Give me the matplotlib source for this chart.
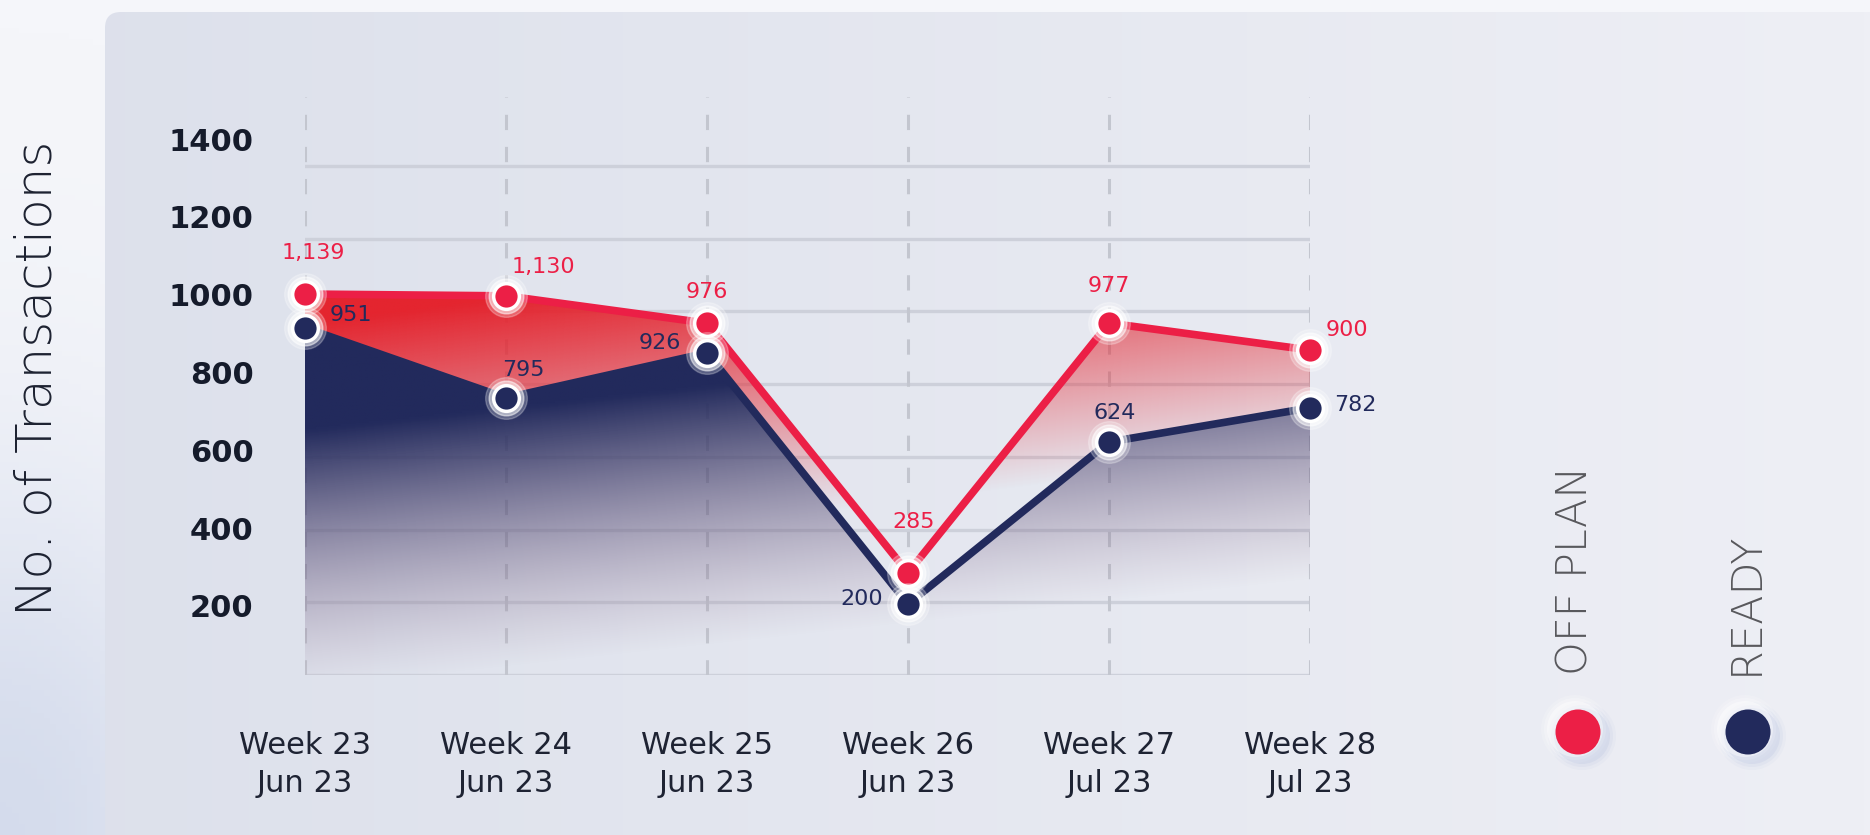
import numpy as np
from matplotlib import pyplot as plt
from matplotlib.patches import FancyBboxPatch, Polygon, Circle
from matplotlib.colors import to_rgb

weeks = ["Week 23", "Week 24", "Week 25", "Week 26", "Week 27", "Week 28"]
months = ["Jun 23", "Jun 23", "Jun 23", "Jun 23", "Jul 23", "Jul 23"]
# heights of the points read against the gridlines (one line per 200)
off_plan = [1048, 1043, 968, 281, 968, 894]
ready = [955, 762, 886, 195, 641, 735]
# numbers printed beside the points
off_plan_labels = ["1,139", "1,130", "976", "285", "977", "900"]
ready_labels = ["951", "795", "926", "200", "624", "782"]
y_tick_values = [200, 400, 600, 800, 1000, 1200, 1400]
series_names = ["OFF PLAN", "READY"]

RED = "#ec1f46"
NAVY = "#222a5c"
W, H = 1870, 835

plt.rcParams['font.family'] = ['DejaVu Sans']


def gradient_fill(ax, x, top, bottom, alpha_fn, rgb_fn, zorder):
    x = np.asarray(x, float)
    verts = np.column_stack([np.concatenate([x, x[::-1]]),
                             np.concatenate([top, bottom[::-1]])])
    poly = Polygon(verts, closed=True, fc="none", ec="none")
    ax.add_patch(poly)
    X, Y = np.meshgrid(np.linspace(0, 5, 400), np.linspace(0, 1590, 400))
    a = alpha_fn(X, Y)
    img = np.zeros(X.shape + (4,))
    img[..., :3] = rgb_fn(a)
    img[..., 3] = a
    im = ax.imshow(img, extent=[0, 5, 0, 1590], origin="lower", aspect="auto",
                   zorder=zorder, interpolation="bilinear")
    im.set_clip_path(poly)


fig = plt.figure(figsize=(W / 100, H / 100), dpi=100)
fig.patch.set_facecolor("#f5f6fa")

# background layer, pixel units (y down)
bg = fig.add_axes([0, 0, 1, 1], zorder=-1)
gx, gy = np.meshgrid(np.linspace(0, W, 300), np.linspace(0, H, 150))
blob = np.exp(-((gx / 240) ** 2 + ((gy - H) / 360) ** 2))
outer = np.zeros(gx.shape + (4,))
outer[..., :3] = to_rgb("#bfcae3")
outer[..., 3] = 0.6 * blob
bg.imshow(outer, extent=[0, W, H, 0], aspect="auto", zorder=0)

panel = FancyBboxPatch((105, 12), 2000, 1000, boxstyle="round,pad=0,rounding_size=16",
                       fc="none", ec="none")
bg.add_patch(panel)
t = (gx / W)[..., None]
c1 = np.array(to_rgb("#dce0eb"))
c2 = np.array(to_rgb("#eeeff5"))
pimg = np.ones(gx.shape + (4,))
pimg[..., :3] = (1 - t) * c1 + t * c2
pim = bg.imshow(pimg, extent=[0, W, H, 0], aspect="auto", zorder=1)
pim.set_clip_path(panel)
bg.set_xlim(0, W)
bg.set_ylim(H, 0)
bg.axis("off")

bg.text(38, 378, "No. of Transactions", rotation=90, ha="center", va="center",
        fontsize=36, color="#1d2231", fontweight="light", zorder=3)

# legend
legend_x = [1578, 1748]
for lx, name, col in zip(legend_x, series_names, [RED, NAVY]):
    for r, al in [(34, 0.08), (31, 0.12), (28, 0.2)]:
        bg.add_patch(Circle((lx + 4, 736), r, fc="#aebbdc", ec="none", alpha=al, zorder=2))
        bg.add_patch(Circle((lx - 3, 729), r, fc="white", ec="none", alpha=al * 2, zorder=2))
    bg.add_patch(Circle((lx, 732), 22.5, fc=col, ec="none", zorder=3))
    bg.text(lx - 3, 675, name, rotation=90, ha="center", va="bottom", fontsize=31,
            color="#58585c", fontweight="light", zorder=3)

# chart
ax = fig.add_axes([305 / W, 160 / H, 1005 / W, 578 / H])
ax.patch.set_alpha(0)
x = np.arange(len(weeks))

for g in range(0, 1600, 200):
    ax.axhline(g, color="#cdd0da", lw=2.4, zorder=1)
ax.vlines(x, 0, 1590, colors="#c3c6cf", lw=2.2, linestyles=(0, (5, 5.5)), zorder=1)

navy_rgb = np.array(to_rgb(NAVY))
mauve_rgb = np.array(to_rgb("#9a7c98"))
gradient_fill(ax, x, np.array(ready, float), np.zeros(len(x)),
              lambda X, Y: np.clip(0.0014 * (Y + 40 - 60 * X), 0, 1),
              lambda a: a[..., None] * navy_rgb + (1 - a[..., None]) * mauve_rgb, 2)
red_rgb = np.array(to_rgb("#e4252f"))
gradient_fill(ax, x, np.array(off_plan, float), np.array(ready, float),
              lambda X, Y: np.clip((Y - 300) / 700 - 0.1 * X + 0.05, 0, 1),
              lambda a: np.broadcast_to(red_rgb, a.shape + (3,)), 2)

ax.plot(x, off_plan, color=RED, lw=5.5, zorder=4, solid_joinstyle="round", clip_on=False)
ax.plot(x, ready, color=NAVY, lw=5.5, zorder=4, solid_joinstyle="round", clip_on=False)

for vals, col, z in [(off_plan, RED, 6), (ready, NAVY, 8)]:
    ax.plot(x, vals, "o", ms=30, color="white", alpha=0.25, zorder=z - 1, clip_on=False)
    ax.plot(x, vals, "o", ms=25, color="white", alpha=0.5, zorder=z - 1, clip_on=False)
    ax.plot(x, vals, "o", ms=18.5, mfc=col, mec="white", mew=2.5, zorder=z, clip_on=False)

# label placement: (ha, dx px, dy px)
off_pos = [("center", 8, 41), ("left", 6, 29), ("center", 0, 31),
           ("center", 6, 51), ("center", 0, 37), ("left", 16, 20)]
ready_pos = [("left", 25, 13), ("center", 17, 28), ("right", -26, 10),
             ("right", -25, 5), ("center", 6, 29), ("left", 24, 3)]
for vals, labels, pos, col in [(off_plan, off_plan_labels, off_pos, RED),
                               (ready, ready_labels, ready_pos, NAVY)]:
    for xi, v, lbl, (ha, dx, dy) in zip(x, vals, labels, pos):
        ax.annotate(lbl, (xi, v), xytext=(dx * 0.72, dy * 0.72), textcoords="offset points",
                    ha=ha, va="center", fontsize=16, color=col, zorder=9)

ax.set_xlim(0, 5)
ax.set_ylim(0, 1590)
ax.set_xticks(x, [w + "\n" + m for w, m in zip(weeks, months)])
ax.set_yticks([190 + 1.0702 * (v - 200) for v in y_tick_values],
              [str(v) for v in y_tick_values])
ax.tick_params(axis="x", length=0, pad=40, labelsize=22, labelcolor="#1e2333")
ax.tick_params(axis="y", length=0, pad=37, labelsize=22, labelcolor="#151b2b")
for lab in ax.get_xticklabels():
    lab.set_linespacing(1.4)
for lab in ax.get_yticklabels():
    lab.set_fontweight("bold")
for s in ax.spines.values():
    s.set_visible(False)

plt.savefig("out.png", dpi=100, facecolor=fig.get_facecolor())
